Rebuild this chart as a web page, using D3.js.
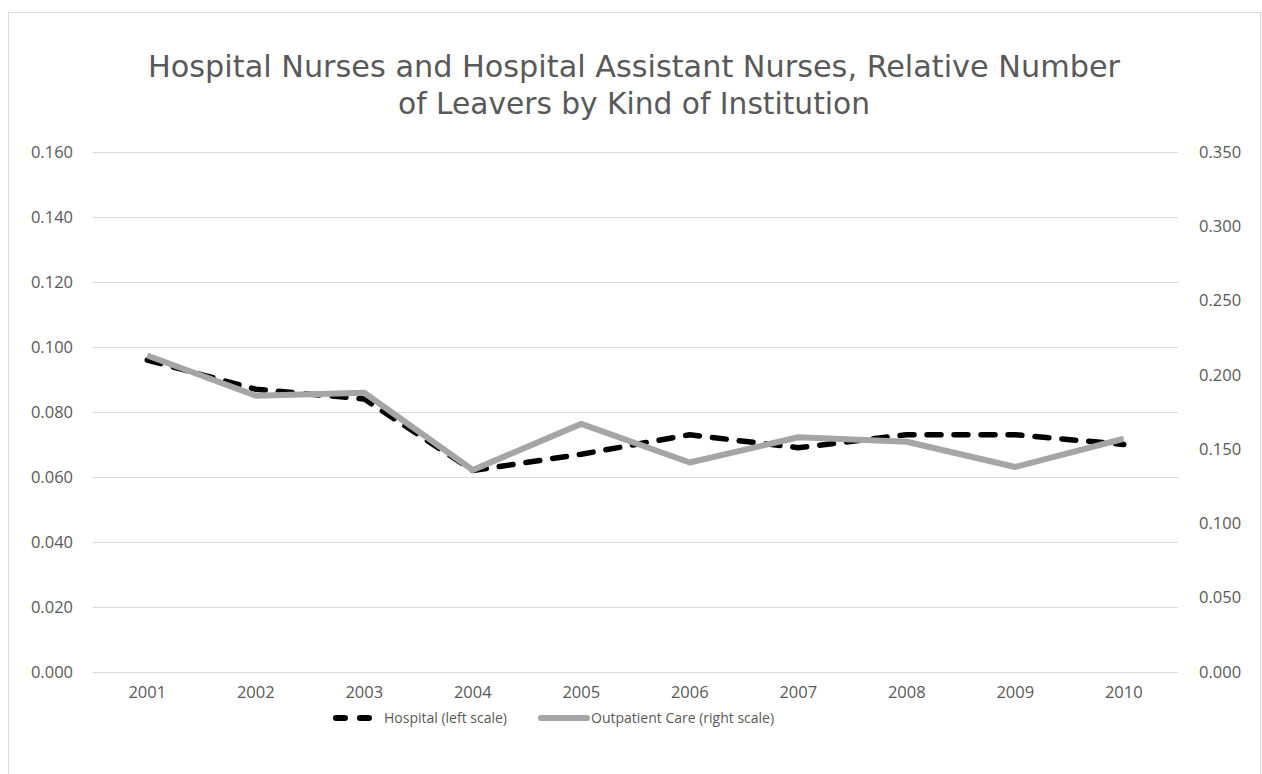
<!DOCTYPE html>
<html>
<head>
<meta charset="utf-8">
<script src="https://cdn.jsdelivr.net/npm/d3@7"></script>
<style>
  body { margin: 0; background: #fff; }
  text { font-family: "Open Sans", "Noto Sans", sans-serif; }
</style>
</head>
<body>
<div id="chart"></div>
<script>
// data
var years = ["2001","2002","2003","2004","2005","2006","2007","2008","2009","2010"];
var hospital = [0.096, 0.087, 0.084, 0.062, 0.067, 0.073, 0.069, 0.073, 0.073, 0.070];
var outpatient = [0.213, 0.186, 0.188, 0.136, 0.167, 0.141, 0.158, 0.155, 0.138, 0.157];
var leftTicks = [0, 0.02, 0.04, 0.06, 0.08, 0.10, 0.12, 0.14, 0.16];
var rightTicks = [0, 0.05, 0.10, 0.15, 0.20, 0.25, 0.30, 0.35];
var titleLines = ["Hospital Nurses and Hospital Assistant Nurses, Relative Number",
                  "of Leavers by Kind of Institution"];
var legendLabels = ["Hospital (left scale)", "Outpatient Care (right scale)"];

var W = 1262, H = 774;
var margin = {top: 152, right: 84, bottom: 102, left: 93},
    width = W - margin.left - margin.right,
    height = H - margin.top - margin.bottom;

var svg = d3.select("#chart").append("svg")
    .attr("width", W).attr("height", H);

// chart area border
svg.append("rect")
  .attr("x", 8.5).attr("y", 12.5)
  .attr("width", 1252).attr("height", 770)
  .attr("fill", "#fff").attr("stroke", "#d9d9d9");

var g = svg.append("g")
  .attr("transform", "translate(" + margin.left + "," + margin.top + ")");

var x = d3.scaleBand().domain(years).range([0, width]);
var yL = d3.scaleLinear().domain([0, 0.16]).range([height, 0]);
var yR = d3.scaleLinear().domain([0, 0.35]).range([height, 0]);

// gridlines
g.append("g")
  .selectAll("line").data(leftTicks).enter().append("line")
    .attr("x1", 0).attr("x2", width)
    .attr("y1", function(d) { return Math.round(yL(d)) + 0.5; })
    .attr("y2", function(d) { return Math.round(yL(d)) + 0.5; })
    .attr("stroke", "#d9d9d9").attr("stroke-width", 1);

// left axis
var leftAxis = g.append("g")
  .call(d3.axisLeft(yL).tickValues(leftTicks).tickFormat(d3.format(".3f")).tickSize(0));
leftAxis.select(".domain").remove();
leftAxis.selectAll("text").attr("fill", "#595959").style("font-size", "16.5px")
  .attr("x", -20).attr("text-anchor", "end");

// right axis
var rightAxis = g.append("g")
  .attr("transform", "translate(" + width + ",0)")
  .call(d3.axisRight(yR).tickValues(rightTicks).tickFormat(d3.format(".3f")).tickSize(0));
rightAxis.select(".domain").remove();
rightAxis.selectAll("text").attr("fill", "#595959").style("font-size", "16.5px")
  .attr("x", 21);

// bottom axis
var bottomAxis = g.append("g")
  .attr("transform", "translate(0," + height + ")")
  .call(d3.axisBottom(x).tickSize(0).tickPadding(14));
bottomAxis.select(".domain").remove();
bottomAxis.selectAll("text").attr("fill", "#595959").style("font-size", "16.5px");

// lines
var lineL = d3.line()
  .x(function(d, i) { return x(years[i]) + x.bandwidth() / 2; })
  .y(function(d) { return yL(d); });
var lineR = d3.line()
  .x(function(d, i) { return x(years[i]) + x.bandwidth() / 2; })
  .y(function(d) { return yR(d); });

g.append("path").datum(hospital)
  .attr("d", lineL)
  .attr("fill", "none").attr("stroke", "#000")
  .attr("stroke-width", 5.5)
  .attr("stroke-linecap", "round").attr("stroke-linejoin", "round")
  .attr("stroke-dasharray", "14,13");

g.append("path").datum(outpatient)
  .attr("d", lineR)
  .attr("fill", "none").attr("stroke", "#a5a5a5")
  .attr("stroke-width", 6)
  .attr("stroke-linejoin", "round");

// title, fitted to the width of the original
var titleW = [972, 472];
svg.append("g").selectAll("text").data(titleLines).enter().append("text")
  .attr("x", 634)
  .attr("y", function(d, i) { return 77 + i * 37; })
  .attr("text-anchor", "middle")
  .attr("fill", "#595959")
  .style("font-family", "'Liberation Sans Narrow', 'DejaVu Sans Condensed', 'Open Sans', sans-serif")
  .style("font-size", "30px")
  .attr("textLength", function(d, i) { return titleW[i]; })
  .attr("lengthAdjust", "spacingAndGlyphs")
  .text(function(d) { return d; });

// legend
var leg = svg.append("g").attr("transform", "translate(0,718)");
leg.append("line")
  .attr("x1", 336).attr("x2", 369).attr("y1", 0).attr("y2", 0)
  .attr("stroke", "#000").attr("stroke-width", 6)
  .attr("stroke-linecap", "round").attr("stroke-dasharray", "9,15");
leg.append("text").attr("x", 384).attr("y", 5)
  .attr("fill", "#595959").style("font-size", "14px").text(legendLabels[0]);
leg.append("line")
  .attr("x1", 541).attr("x2", 587).attr("y1", 0).attr("y2", 0)
  .attr("stroke", "#a5a5a5").attr("stroke-width", 6).attr("stroke-linecap", "round");
leg.append("text").attr("x", 591).attr("y", 5)
  .attr("fill", "#595959").style("font-size", "14px").text(legendLabels[1]);
</script>
</body>
</html>
